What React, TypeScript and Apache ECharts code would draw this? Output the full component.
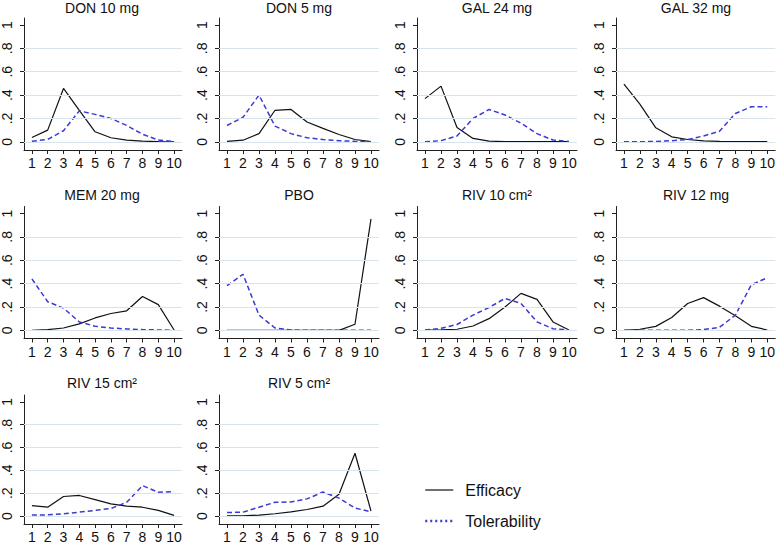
import React, { useEffect, useRef } from 'react';
import * as echarts from 'echarts';

const panelTitles = ['DON 10 mg', 'DON 5 mg', 'GAL 24 mg', 'GAL 32 mg', 'MEM 20 mg', 'PBO', 'RIV 10 cm²', 'RIV 12 mg', 'RIV 15 cm²', 'RIV 5 cm²'];
const xCategories = ['1', '2', '3', '4', '5', '6', '7', '8', '9', '10'];
const yTickValues = [0, 0.2, 0.4, 0.6, 0.8, 1];
const gridValues = [0, 0.2, 0.4, 0.6, 0.8];

const efficacy = [
  [0.037, 0.1, 0.457, 0.27, 0.086, 0.035, 0.015, 0.006, 0.002, 0.0],
  [0.003, 0.014, 0.07, 0.27, 0.277, 0.17, 0.115, 0.063, 0.02, 0.002],
  [0.37, 0.477, 0.123, 0.029, 0.006, 0.002, 0.001, 0.001, 0.001, 0.001],
  [0.494, 0.323, 0.12, 0.043, 0.02, 0.008, 0.003, 0.001, 0.001, 0.001],
  [0.0, 0.006, 0.02, 0.055, 0.106, 0.144, 0.167, 0.29, 0.22, 0.003],
  [0.0, 0.0, 0.0, 0.0, 0.0, 0.0, 0.0, 0.0, 0.052, 0.954],
  [0.001, 0.003, 0.009, 0.037, 0.1, 0.2, 0.316, 0.265, 0.072, 0.003],
  [0.0, 0.009, 0.034, 0.11, 0.23, 0.28, 0.207, 0.124, 0.034, 0.003],
  [0.091, 0.077, 0.171, 0.18, 0.143, 0.106, 0.086, 0.077, 0.049, 0.006],
  [0.001, 0.002, 0.008, 0.02, 0.037, 0.057, 0.086, 0.19, 0.55, 0.043],
];

const tolerability = [
  [0.005, 0.02, 0.095, 0.265, 0.235, 0.2, 0.14, 0.065, 0.015, 0.003],
  [0.14, 0.21, 0.4, 0.135, 0.07, 0.035, 0.02, 0.01, 0.004, 0.001],
  [0.0, 0.01, 0.05, 0.2, 0.277, 0.23, 0.16, 0.07, 0.015, 0.003],
  [0.0, 0.001, 0.003, 0.01, 0.02, 0.05, 0.09, 0.243, 0.3, 0.3],
  [0.44, 0.245, 0.19, 0.072, 0.035, 0.02, 0.012, 0.006, 0.003, 0.001],
  [0.382, 0.48, 0.13, 0.02, 0.003, 0.0, 0.0, 0.0, 0.0, 0.0],
  [0.003, 0.017, 0.05, 0.13, 0.195, 0.273, 0.23, 0.072, 0.014, 0.003],
  [0.0, 0.002, 0.0, 0.0, 0.001, 0.006, 0.026, 0.13, 0.39, 0.45],
  [0.009, 0.01, 0.02, 0.034, 0.049, 0.066, 0.12, 0.266, 0.208, 0.214],
  [0.03, 0.034, 0.077, 0.12, 0.123, 0.15, 0.21, 0.157, 0.07, 0.037],
];

const colLefts = [22, 219, 417, 616];
const rowTops = [18, 206.5, 395];
const GRID_W = 160;
const GRID_H = 132;
const FONT = '"Liberation Sans", Arial, Helvetica, sans-serif';
const AXIS_COLOR = '#222';
const BLUE = '#3b3bd4';

function fmtY(v: number): string {
  const r = Math.round(v * 10) / 10;
  if (r === 0) return '0';
  if (r === 1) return '1';
  return String(r).replace(/^0\./, '.');
}

export default function App() {
  const ref = useRef<HTMLDivElement>(null);
  useEffect(() => {
    if (!ref.current) return;
    const chart = echarts.init(ref.current, null, { renderer: 'svg' });
    const grids: any[] = [];
    const xAxes: any[] = [];
    const yAxes: any[] = [];
    const titles: any[] = [];
    const series: any[] = [];
    panelTitles.forEach((t, i) => {
      const r = Math.floor(i / 4);
      const c = i % 4;
      const left = colLefts[c];
      const top = rowTops[r];
      grids.push({ left, top, width: GRID_W, height: GRID_H, containLabel: false });
      titles.push({
        text: t,
        left: left + GRID_W / 2,
        top: top - (r === 0 ? 17 : 19),
        textAlign: 'center',
        padding: 0,
        textStyle: { fontSize: 14, fontWeight: 'normal', color: '#111', fontFamily: FONT },
      });
      xAxes.push({
        gridIndex: i,
        type: 'category',
        data: xCategories,
        boundaryGap: true,
        axisLine: { show: true, onZero: false, lineStyle: { color: AXIS_COLOR, width: 1 } },
        axisTick: { show: true, alignWithLabel: true, length: 4, lineStyle: { color: AXIS_COLOR } },
        axisLabel: { show: true, interval: 0, margin: 6, fontSize: 14, color: '#111', fontFamily: FONT },
        splitLine: { show: false },
      });
      yAxes.push({
        gridIndex: i,
        type: 'value',
        min: -0.07,
        max: 1.06,
        axisLine: { show: true, onZero: false, lineStyle: { color: AXIS_COLOR, width: 1 } },
        axisTick: { show: true, length: 4, customValues: yTickValues, lineStyle: { color: AXIS_COLOR } },
        axisLabel: {
          show: true,
          customValues: yTickValues,
          rotate: 90,
          margin: 10,
          fontSize: 14,
          color: '#111',
          fontFamily: FONT,
          formatter: (v: number) => fmtY(v),
        },
        splitLine: { show: false },
      });
      series.push({
        name: '_grid' + i,
        type: 'line',
        xAxisIndex: i,
        yAxisIndex: i,
        data: [],
        z: 1,
        silent: true,
        markLine: {
          silent: true,
          symbol: 'none',
          label: { show: false },
          lineStyle: { color: '#d8e4eb', width: 1, type: 'solid' },
          data: gridValues.map((v) => ({ yAxis: v })),
        },
      });
      series.push({
        name: 'Efficacy',
        type: 'line',
        xAxisIndex: i,
        yAxisIndex: i,
        data: efficacy[i],
        symbol: 'none',
        z: 3,
        lineStyle: { color: '#111', width: 1.2, type: 'solid' },
        itemStyle: { color: '#111' },
      });
      series.push({
        name: 'Tolerability',
        type: 'line',
        xAxisIndex: i,
        yAxisIndex: i,
        data: tolerability[i],
        symbol: 'none',
        z: 4,
        lineStyle: { color: BLUE, width: 1.5, type: [5, 3] },
        itemStyle: { color: BLUE },
      });
    });

    chart.setOption({
      animation: false,
      backgroundColor: '#ffffff',
      title: titles,
      grid: grids,
      xAxis: xAxes,
      yAxis: yAxes,
      legend: {
        orient: 'vertical',
        left: 419,
        top: 477,
        itemWidth: 28,
        itemHeight: 14,
        itemGap: 15,
        selectedMode: false,
        textStyle: { fontSize: 16, color: '#111', fontFamily: FONT, padding: [0, 0, 0, 7] },
        data: [
          { name: 'Efficacy', itemStyle: { opacity: 0 }, lineStyle: { color: '#111', width: 1.2, type: 'solid' } },
          { name: 'Tolerability', itemStyle: { opacity: 0 }, lineStyle: { color: BLUE, width: 2.5, type: [2, 3] } },
        ],
      },
      series,
    });
    return () => chart.dispose();
  }, []);
  return <div ref={ref} style={{ position: 'fixed', left: 0, top: 0, width: 778, height: 544 }} />;
}
